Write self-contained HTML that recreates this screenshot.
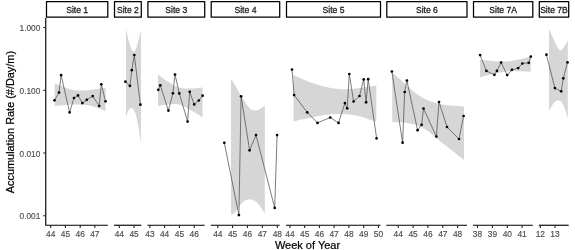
<!DOCTYPE html><html><head><meta charset="utf-8"><style>html,body{margin:0;padding:0;background:#fff;}svg{display:block;}text{font-family:"Liberation Sans",sans-serif;} .wrap{will-change:transform;}</style></head><body>
<div class="wrap">
<svg width="575" height="250" viewBox="0 0 575 250">
<rect x="0" y="0" width="575" height="250" fill="#fff"/>
<path d="M54.7,83.2 L60,85.5 L65,87.5 L70,89.2 L75,90.2 L80,90.6 L85,90.5 L90,90 L95,89.2 L100,88.4 L105.5,87.6 L105.5,111.3 L100,108.8 L95,107 L90,105.6 L85,104.8 L80,104.5 L75,104.4 L70,104.6 L65,105 L60,105.5 L54.7,106.1Z" fill="#d6d6d6"/>
<path d="M126,29 L128,38 L130,45.5 L132,50.5 L134,52 L136,49 L138,42 L139.5,36 L141,31 L141,143 L139.5,133 L137.5,122 L135.5,113.5 L133.5,109 L131,107.8 L129,109.5 L127.5,112.5 L126,117Z" fill="#d6d6d6"/>
<path d="M158,74.5 L162,77.5 L166,80.5 L170,83 L174,85.5 L178,87.3 L182,88.2 L186,88.5 L190,88.6 L194,88.4 L198,88 L202.5,87.6 L202.5,117.4 L198,114.5 L194,112 L190,109.7 L186,107.5 L182,105.5 L178,104.3 L174,104 L170,104.3 L166,104.8 L162,105.3 L158,105.7Z" fill="#d6d6d6"/>
<path d="M231,79 L233,82 L235.5,86 L238,90.5 L241,95.5 L244,100.5 L247,105.3 L250,108.8 L253,110.3 L256,110.6 L259,109.8 L262,107.9 L264.8,105 L264.8,213.87 L262.38,209.58 L259.97,206.03 L257.55,203.22 L255.14,201.15 L252.72,199.82 L250.31,199.23 L247.89,199.39 L245.48,200.28 L243.06,201.91 L240.65,204.29 L238.23,207.41 L235.82,211.27 L233.4,214.5 L231,214.3Z" fill="#d6d6d6"/>
<path d="M293.5,75.1 L300,78 L308,81.5 L316,84.3 L324,86.6 L332,88.2 L340,89.2 L348,89.3 L356,88.6 L364,87.5 L370,86.5 L376.3,85.4 L376.3,121.8 L370,119.8 L364,117.6 L356,115.5 L348,114.3 L340,114 L332,114.2 L324,115.2 L316,116.6 L308,118.2 L300,119.8 L293.5,121.4Z" fill="#d6d6d6"/>
<path d="M392.2,72.5 L398,77.5 L404,83 L410,88.5 L416,93.5 L422,97.5 L428,100.4 L434,102.5 L440,104 L446,105 L452,105.7 L458,106.1 L464,106.4 L464,160 L458,155.3 L452,150.5 L446,145.8 L440,141.2 L434,136 L428,131 L422,127.3 L416,125 L410,123.6 L404,122.6 L398,122.2 L392.2,122Z" fill="#d6d6d6"/>
<path d="M480,59.8 L485,60.3 L490,60.8 L495,61.3 L500,61.6 L505,61.6 L510,61.2 L515,60.3 L520,59.2 L525,58 L530.8,56.6 L530.8,71.8 L525,71.5 L520,71.3 L515,71.2 L510,71.3 L505,71.7 L500,72.4 L495,73.4 L490,74.6 L485,75.9 L480,77.4Z" fill="#d6d6d6"/>
<path d="M549,29 L551,33.5 L553,38 L555,42.5 L557,46.5 L559,49.5 L560.5,50.5 L562,49.8 L564,47 L566,43.5 L567.8,40.5 L567.8,118.8 L566,112.5 L564,106.5 L562,102.5 L560,100.6 L558,100.3 L556,101 L554,102.8 L552,105.5 L550.5,108.3 L549,111.1Z" fill="#d6d6d6"/>
<path d="M54.5,100.3 L59,92.6 L61.1,75.2 L69.6,112.4 L74,98 L78,95.4 L82.4,103.1 L86.8,99.8 L92.7,96.1 L99.2,106 L101.3,84.3 L105.5,101.3" fill="none" stroke="#505050" stroke-width="0.75" stroke-linejoin="round"/>
<path d="M125.4,81.7 L129.9,85.9 L131.8,70.2 L134.3,55 L140.4,104.7" fill="none" stroke="#505050" stroke-width="0.75" stroke-linejoin="round"/>
<path d="M158.3,89.8 L160.3,85.3 L168.4,110.6 L172.9,93.3 L175,74.5 L179.3,93.4 L187.6,121.6 L189.7,91.8 L194.2,104.4 L198.8,100.5 L202.6,95.7" fill="none" stroke="#505050" stroke-width="0.75" stroke-linejoin="round"/>
<path d="M224.3,142.8 L238.9,215.1 L241.1,96.3 L249.6,150.3 L256,135.1 L274.7,207.9 L277.1,135.1" fill="none" stroke="#505050" stroke-width="0.75" stroke-linejoin="round"/>
<path d="M292,69.5 L294.1,95.1 L307.2,112.3 L317.5,122.9 L330.2,117.5 L338.5,122.9 L344.9,103.1 L347.2,108.3 L349.3,74 L353.6,101.5 L359.5,96 L363.7,79.4 L366.1,102.3 L368.2,79.2 L376.6,138.3" fill="none" stroke="#505050" stroke-width="0.75" stroke-linejoin="round"/>
<path d="M391.9,71.5 L402.6,142.7 L404.7,92 L406.9,80.5 L417.6,130.2 L421.6,124.8 L423.5,108.5 L436.4,136.6 L439,102 L447,127 L459,139 L463.6,116" fill="none" stroke="#505050" stroke-width="0.75" stroke-linejoin="round"/>
<path d="M480.1,55.1 L486.4,70.9 L494.4,74.8 L496.9,70.9 L501.1,62.5 L507.2,75.1 L511.9,69.8 L518.2,68.1 L522.4,63.5 L528.7,62.8 L530.8,56.6" fill="none" stroke="#505050" stroke-width="0.75" stroke-linejoin="round"/>
<path d="M546.4,54.7 L554.9,88.1 L561.2,91.3 L563.3,78.3 L567.5,62.4" fill="none" stroke="#505050" stroke-width="0.75" stroke-linejoin="round"/>
<circle cx="54.5" cy="100.3" r="1.35" fill="#000"/>
<circle cx="59" cy="92.6" r="1.35" fill="#000"/>
<circle cx="61.1" cy="75.2" r="1.35" fill="#000"/>
<circle cx="69.6" cy="112.4" r="1.35" fill="#000"/>
<circle cx="74" cy="98" r="1.35" fill="#000"/>
<circle cx="78" cy="95.4" r="1.35" fill="#000"/>
<circle cx="82.4" cy="103.1" r="1.35" fill="#000"/>
<circle cx="86.8" cy="99.8" r="1.35" fill="#000"/>
<circle cx="92.7" cy="96.1" r="1.35" fill="#000"/>
<circle cx="99.2" cy="106" r="1.35" fill="#000"/>
<circle cx="101.3" cy="84.3" r="1.35" fill="#000"/>
<circle cx="105.5" cy="101.3" r="1.35" fill="#000"/>
<circle cx="125.4" cy="81.7" r="1.35" fill="#000"/>
<circle cx="129.9" cy="85.9" r="1.35" fill="#000"/>
<circle cx="131.8" cy="70.2" r="1.35" fill="#000"/>
<circle cx="134.3" cy="55" r="1.35" fill="#000"/>
<circle cx="140.4" cy="104.7" r="1.35" fill="#000"/>
<circle cx="158.3" cy="89.8" r="1.35" fill="#000"/>
<circle cx="160.3" cy="85.3" r="1.35" fill="#000"/>
<circle cx="168.4" cy="110.6" r="1.35" fill="#000"/>
<circle cx="172.9" cy="93.3" r="1.35" fill="#000"/>
<circle cx="175" cy="74.5" r="1.35" fill="#000"/>
<circle cx="179.3" cy="93.4" r="1.35" fill="#000"/>
<circle cx="187.6" cy="121.6" r="1.35" fill="#000"/>
<circle cx="189.7" cy="91.8" r="1.35" fill="#000"/>
<circle cx="194.2" cy="104.4" r="1.35" fill="#000"/>
<circle cx="198.8" cy="100.5" r="1.35" fill="#000"/>
<circle cx="202.6" cy="95.7" r="1.35" fill="#000"/>
<circle cx="224.3" cy="142.8" r="1.35" fill="#000"/>
<circle cx="238.9" cy="215.1" r="1.35" fill="#000"/>
<circle cx="241.1" cy="96.3" r="1.35" fill="#000"/>
<circle cx="249.6" cy="150.3" r="1.35" fill="#000"/>
<circle cx="256" cy="135.1" r="1.35" fill="#000"/>
<circle cx="274.7" cy="207.9" r="1.35" fill="#000"/>
<circle cx="277.1" cy="135.1" r="1.35" fill="#000"/>
<circle cx="292" cy="69.5" r="1.35" fill="#000"/>
<circle cx="294.1" cy="95.1" r="1.35" fill="#000"/>
<circle cx="307.2" cy="112.3" r="1.35" fill="#000"/>
<circle cx="317.5" cy="122.9" r="1.35" fill="#000"/>
<circle cx="330.2" cy="117.5" r="1.35" fill="#000"/>
<circle cx="338.5" cy="122.9" r="1.35" fill="#000"/>
<circle cx="344.9" cy="103.1" r="1.35" fill="#000"/>
<circle cx="347.2" cy="108.3" r="1.35" fill="#000"/>
<circle cx="349.3" cy="74" r="1.35" fill="#000"/>
<circle cx="353.6" cy="101.5" r="1.35" fill="#000"/>
<circle cx="359.5" cy="96" r="1.35" fill="#000"/>
<circle cx="363.7" cy="79.4" r="1.35" fill="#000"/>
<circle cx="366.1" cy="102.3" r="1.35" fill="#000"/>
<circle cx="368.2" cy="79.2" r="1.35" fill="#000"/>
<circle cx="376.6" cy="138.3" r="1.35" fill="#000"/>
<circle cx="391.9" cy="71.5" r="1.35" fill="#000"/>
<circle cx="402.6" cy="142.7" r="1.35" fill="#000"/>
<circle cx="404.7" cy="92" r="1.35" fill="#000"/>
<circle cx="406.9" cy="80.5" r="1.35" fill="#000"/>
<circle cx="417.6" cy="130.2" r="1.35" fill="#000"/>
<circle cx="421.6" cy="124.8" r="1.35" fill="#000"/>
<circle cx="423.5" cy="108.5" r="1.35" fill="#000"/>
<circle cx="436.4" cy="136.6" r="1.35" fill="#000"/>
<circle cx="439" cy="102" r="1.35" fill="#000"/>
<circle cx="447" cy="127" r="1.35" fill="#000"/>
<circle cx="459" cy="139" r="1.35" fill="#000"/>
<circle cx="463.6" cy="116" r="1.35" fill="#000"/>
<circle cx="480.1" cy="55.1" r="1.35" fill="#000"/>
<circle cx="486.4" cy="70.9" r="1.35" fill="#000"/>
<circle cx="494.4" cy="74.8" r="1.35" fill="#000"/>
<circle cx="496.9" cy="70.9" r="1.35" fill="#000"/>
<circle cx="501.1" cy="62.5" r="1.35" fill="#000"/>
<circle cx="507.2" cy="75.1" r="1.35" fill="#000"/>
<circle cx="511.9" cy="69.8" r="1.35" fill="#000"/>
<circle cx="518.2" cy="68.1" r="1.35" fill="#000"/>
<circle cx="522.4" cy="63.5" r="1.35" fill="#000"/>
<circle cx="528.7" cy="62.8" r="1.35" fill="#000"/>
<circle cx="530.8" cy="56.6" r="1.35" fill="#000"/>
<circle cx="546.4" cy="54.7" r="1.35" fill="#000"/>
<circle cx="554.9" cy="88.1" r="1.35" fill="#000"/>
<circle cx="561.2" cy="91.3" r="1.35" fill="#000"/>
<circle cx="563.3" cy="78.3" r="1.35" fill="#000"/>
<circle cx="567.5" cy="62.4" r="1.35" fill="#000"/>
<rect x="46.5" y="1.5" width="61.3" height="15.7" fill="#fff" stroke="#000" stroke-width="1.25" stroke-linejoin="round"/>
<text x="77.15" y="12.7" font-size="8.6" fill="#1a1a1a" stroke="#1a1a1a" stroke-width="0.28" text-anchor="middle">Site 1</text>
<rect x="114.5" y="1.5" width="26.8" height="15.7" fill="#fff" stroke="#000" stroke-width="1.25" stroke-linejoin="round"/>
<text x="127.9" y="12.7" font-size="8.6" fill="#1a1a1a" stroke="#1a1a1a" stroke-width="0.28" text-anchor="middle">Site 2</text>
<rect x="147.9" y="1.5" width="56.8" height="15.7" fill="#fff" stroke="#000" stroke-width="1.25" stroke-linejoin="round"/>
<text x="176.3" y="12.7" font-size="8.6" fill="#1a1a1a" stroke="#1a1a1a" stroke-width="0.28" text-anchor="middle">Site 3</text>
<rect x="211.2" y="1.5" width="68.5" height="15.7" fill="#fff" stroke="#000" stroke-width="1.25" stroke-linejoin="round"/>
<text x="245.45" y="12.7" font-size="8.6" fill="#1a1a1a" stroke="#1a1a1a" stroke-width="0.28" text-anchor="middle">Site 4</text>
<rect x="286.5" y="1.5" width="94" height="15.7" fill="#fff" stroke="#000" stroke-width="1.25" stroke-linejoin="round"/>
<text x="333.5" y="12.7" font-size="8.6" fill="#1a1a1a" stroke="#1a1a1a" stroke-width="0.28" text-anchor="middle">Site 5</text>
<rect x="386.8" y="1.5" width="80.2" height="15.7" fill="#fff" stroke="#000" stroke-width="1.25" stroke-linejoin="round"/>
<text x="426.9" y="12.7" font-size="8.6" fill="#1a1a1a" stroke="#1a1a1a" stroke-width="0.28" text-anchor="middle">Site 6</text>
<rect x="473.5" y="1.5" width="59.3" height="15.7" fill="#fff" stroke="#000" stroke-width="1.25" stroke-linejoin="round"/>
<text x="503.15" y="12.7" font-size="8.6" fill="#1a1a1a" stroke="#1a1a1a" stroke-width="0.28" text-anchor="middle">Site 7A</text>
<rect x="539.3" y="1.5" width="29.4" height="15.7" fill="#fff" stroke="#000" stroke-width="1.25" stroke-linejoin="round"/>
<text x="554" y="12.7" font-size="8.6" fill="#1a1a1a" stroke="#1a1a1a" stroke-width="0.28" text-anchor="middle">Site 7B</text>
<line x1="50.7" y1="225.25" x2="50.7" y2="227.95" stroke="#222" stroke-width="1.1"/>
<text transform="translate(50.7,236.7) scale(1,1.1)" font-size="8.4" fill="#4d4d4d" stroke="#4d4d4d" stroke-width="0.15" text-anchor="middle">44</text>
<line x1="65.4" y1="225.25" x2="65.4" y2="227.95" stroke="#222" stroke-width="1.1"/>
<text transform="translate(65.4,236.7) scale(1,1.1)" font-size="8.4" fill="#4d4d4d" stroke="#4d4d4d" stroke-width="0.15" text-anchor="middle">45</text>
<line x1="80.2" y1="225.25" x2="80.2" y2="227.95" stroke="#222" stroke-width="1.1"/>
<text transform="translate(80.2,236.7) scale(1,1.1)" font-size="8.4" fill="#4d4d4d" stroke="#4d4d4d" stroke-width="0.15" text-anchor="middle">46</text>
<line x1="94.8" y1="225.25" x2="94.8" y2="227.95" stroke="#222" stroke-width="1.1"/>
<text transform="translate(94.8,236.7) scale(1,1.1)" font-size="8.4" fill="#4d4d4d" stroke="#4d4d4d" stroke-width="0.15" text-anchor="middle">47</text>
<line x1="114" y1="225.25" x2="141.3" y2="225.25" stroke="#000" stroke-width="1.15"/>
<line x1="119.3" y1="225.25" x2="119.3" y2="227.95" stroke="#222" stroke-width="1.1"/>
<text transform="translate(119.3,236.7) scale(1,1.1)" font-size="8.4" fill="#4d4d4d" stroke="#4d4d4d" stroke-width="0.15" text-anchor="middle">44</text>
<line x1="134.1" y1="225.25" x2="134.1" y2="227.95" stroke="#222" stroke-width="1.1"/>
<text transform="translate(134.1,236.7) scale(1,1.1)" font-size="8.4" fill="#4d4d4d" stroke="#4d4d4d" stroke-width="0.15" text-anchor="middle">45</text>
<line x1="147.4" y1="225.25" x2="204.7" y2="225.25" stroke="#000" stroke-width="1.15"/>
<line x1="149.9" y1="225.25" x2="149.9" y2="227.95" stroke="#222" stroke-width="1.1"/>
<text transform="translate(149.9,236.7) scale(1,1.1)" font-size="8.4" fill="#4d4d4d" stroke="#4d4d4d" stroke-width="0.15" text-anchor="middle">43</text>
<line x1="164.6" y1="225.25" x2="164.6" y2="227.95" stroke="#222" stroke-width="1.1"/>
<text transform="translate(164.6,236.7) scale(1,1.1)" font-size="8.4" fill="#4d4d4d" stroke="#4d4d4d" stroke-width="0.15" text-anchor="middle">44</text>
<line x1="179.4" y1="225.25" x2="179.4" y2="227.95" stroke="#222" stroke-width="1.1"/>
<text transform="translate(179.4,236.7) scale(1,1.1)" font-size="8.4" fill="#4d4d4d" stroke="#4d4d4d" stroke-width="0.15" text-anchor="middle">45</text>
<line x1="194.2" y1="225.25" x2="194.2" y2="227.95" stroke="#222" stroke-width="1.1"/>
<text transform="translate(194.2,236.7) scale(1,1.1)" font-size="8.4" fill="#4d4d4d" stroke="#4d4d4d" stroke-width="0.15" text-anchor="middle">46</text>
<line x1="210.7" y1="225.25" x2="279.7" y2="225.25" stroke="#000" stroke-width="1.15"/>
<line x1="217.8" y1="225.25" x2="217.8" y2="227.95" stroke="#222" stroke-width="1.1"/>
<text transform="translate(217.8,236.7) scale(1,1.1)" font-size="8.4" fill="#4d4d4d" stroke="#4d4d4d" stroke-width="0.15" text-anchor="middle">44</text>
<line x1="232.6" y1="225.25" x2="232.6" y2="227.95" stroke="#222" stroke-width="1.1"/>
<text transform="translate(232.6,236.7) scale(1,1.1)" font-size="8.4" fill="#4d4d4d" stroke="#4d4d4d" stroke-width="0.15" text-anchor="middle">45</text>
<line x1="247.4" y1="225.25" x2="247.4" y2="227.95" stroke="#222" stroke-width="1.1"/>
<text transform="translate(247.4,236.7) scale(1,1.1)" font-size="8.4" fill="#4d4d4d" stroke="#4d4d4d" stroke-width="0.15" text-anchor="middle">46</text>
<line x1="262.3" y1="225.25" x2="262.3" y2="227.95" stroke="#222" stroke-width="1.1"/>
<text transform="translate(262.3,236.7) scale(1,1.1)" font-size="8.4" fill="#4d4d4d" stroke="#4d4d4d" stroke-width="0.15" text-anchor="middle">47</text>
<line x1="277.3" y1="225.25" x2="277.3" y2="227.95" stroke="#222" stroke-width="1.1"/>
<text transform="translate(277.3,236.7) scale(1,1.1)" font-size="8.4" fill="#4d4d4d" stroke="#4d4d4d" stroke-width="0.15" text-anchor="middle">48</text>
<line x1="286" y1="225.25" x2="380.5" y2="225.25" stroke="#000" stroke-width="1.15"/>
<line x1="290" y1="225.25" x2="290" y2="227.95" stroke="#222" stroke-width="1.1"/>
<text transform="translate(290,236.7) scale(1,1.1)" font-size="8.4" fill="#4d4d4d" stroke="#4d4d4d" stroke-width="0.15" text-anchor="middle">44</text>
<line x1="304.7" y1="225.25" x2="304.7" y2="227.95" stroke="#222" stroke-width="1.1"/>
<text transform="translate(304.7,236.7) scale(1,1.1)" font-size="8.4" fill="#4d4d4d" stroke="#4d4d4d" stroke-width="0.15" text-anchor="middle">45</text>
<line x1="319.4" y1="225.25" x2="319.4" y2="227.95" stroke="#222" stroke-width="1.1"/>
<text transform="translate(319.4,236.7) scale(1,1.1)" font-size="8.4" fill="#4d4d4d" stroke="#4d4d4d" stroke-width="0.15" text-anchor="middle">46</text>
<line x1="334.1" y1="225.25" x2="334.1" y2="227.95" stroke="#222" stroke-width="1.1"/>
<text transform="translate(334.1,236.7) scale(1,1.1)" font-size="8.4" fill="#4d4d4d" stroke="#4d4d4d" stroke-width="0.15" text-anchor="middle">47</text>
<line x1="348.9" y1="225.25" x2="348.9" y2="227.95" stroke="#222" stroke-width="1.1"/>
<text transform="translate(348.9,236.7) scale(1,1.1)" font-size="8.4" fill="#4d4d4d" stroke="#4d4d4d" stroke-width="0.15" text-anchor="middle">48</text>
<line x1="363.7" y1="225.25" x2="363.7" y2="227.95" stroke="#222" stroke-width="1.1"/>
<text transform="translate(363.7,236.7) scale(1,1.1)" font-size="8.4" fill="#4d4d4d" stroke="#4d4d4d" stroke-width="0.15" text-anchor="middle">49</text>
<line x1="378.4" y1="225.25" x2="378.4" y2="227.95" stroke="#222" stroke-width="1.1"/>
<text transform="translate(378.4,236.7) scale(1,1.1)" font-size="8.4" fill="#4d4d4d" stroke="#4d4d4d" stroke-width="0.15" text-anchor="middle">50</text>
<line x1="386.3" y1="225.25" x2="467" y2="225.25" stroke="#000" stroke-width="1.15"/>
<line x1="398.2" y1="225.25" x2="398.2" y2="227.95" stroke="#222" stroke-width="1.1"/>
<text transform="translate(398.2,236.7) scale(1,1.1)" font-size="8.4" fill="#4d4d4d" stroke="#4d4d4d" stroke-width="0.15" text-anchor="middle">44</text>
<line x1="413.1" y1="225.25" x2="413.1" y2="227.95" stroke="#222" stroke-width="1.1"/>
<text transform="translate(413.1,236.7) scale(1,1.1)" font-size="8.4" fill="#4d4d4d" stroke="#4d4d4d" stroke-width="0.15" text-anchor="middle">45</text>
<line x1="427.9" y1="225.25" x2="427.9" y2="227.95" stroke="#222" stroke-width="1.1"/>
<text transform="translate(427.9,236.7) scale(1,1.1)" font-size="8.4" fill="#4d4d4d" stroke="#4d4d4d" stroke-width="0.15" text-anchor="middle">46</text>
<line x1="442.8" y1="225.25" x2="442.8" y2="227.95" stroke="#222" stroke-width="1.1"/>
<text transform="translate(442.8,236.7) scale(1,1.1)" font-size="8.4" fill="#4d4d4d" stroke="#4d4d4d" stroke-width="0.15" text-anchor="middle">47</text>
<line x1="457.6" y1="225.25" x2="457.6" y2="227.95" stroke="#222" stroke-width="1.1"/>
<text transform="translate(457.6,236.7) scale(1,1.1)" font-size="8.4" fill="#4d4d4d" stroke="#4d4d4d" stroke-width="0.15" text-anchor="middle">48</text>
<line x1="473" y1="225.25" x2="532.8" y2="225.25" stroke="#000" stroke-width="1.15"/>
<line x1="477.5" y1="225.25" x2="477.5" y2="227.95" stroke="#222" stroke-width="1.1"/>
<text transform="translate(477.5,236.7) scale(1,1.1)" font-size="8.4" fill="#4d4d4d" stroke="#4d4d4d" stroke-width="0.15" text-anchor="middle">38</text>
<line x1="492.4" y1="225.25" x2="492.4" y2="227.95" stroke="#222" stroke-width="1.1"/>
<text transform="translate(492.4,236.7) scale(1,1.1)" font-size="8.4" fill="#4d4d4d" stroke="#4d4d4d" stroke-width="0.15" text-anchor="middle">39</text>
<line x1="507.3" y1="225.25" x2="507.3" y2="227.95" stroke="#222" stroke-width="1.1"/>
<text transform="translate(507.3,236.7) scale(1,1.1)" font-size="8.4" fill="#4d4d4d" stroke="#4d4d4d" stroke-width="0.15" text-anchor="middle">40</text>
<line x1="522.1" y1="225.25" x2="522.1" y2="227.95" stroke="#222" stroke-width="1.1"/>
<text transform="translate(522.1,236.7) scale(1,1.1)" font-size="8.4" fill="#4d4d4d" stroke="#4d4d4d" stroke-width="0.15" text-anchor="middle">41</text>
<line x1="538.8" y1="225.25" x2="568.7" y2="225.25" stroke="#000" stroke-width="1.15"/>
<line x1="540.3" y1="225.25" x2="540.3" y2="227.95" stroke="#222" stroke-width="1.1"/>
<text transform="translate(540.3,236.7) scale(1,1.1)" font-size="8.4" fill="#4d4d4d" stroke="#4d4d4d" stroke-width="0.15" text-anchor="middle">12</text>
<line x1="555" y1="225.25" x2="555" y2="227.95" stroke="#222" stroke-width="1.1"/>
<text transform="translate(555,236.7) scale(1,1.1)" font-size="8.4" fill="#4d4d4d" stroke="#4d4d4d" stroke-width="0.15" text-anchor="middle">13</text>
<path d="M45.75,18 L45.75,225.25 L107.8,225.25" fill="none" stroke="#000" stroke-width="1.15" stroke-linejoin="round"/>
<line x1="43.3" y1="27.5" x2="45.5" y2="27.5" stroke="#222" stroke-width="1.1"/>
<text transform="translate(40.3,31) scale(1,1.08)" font-size="8.3" fill="#4d4d4d" stroke="#4d4d4d" stroke-width="0.15" text-anchor="end">1.000</text>
<line x1="43.3" y1="90.25" x2="45.5" y2="90.25" stroke="#222" stroke-width="1.1"/>
<text transform="translate(40.3,93.75) scale(1,1.08)" font-size="8.3" fill="#4d4d4d" stroke="#4d4d4d" stroke-width="0.15" text-anchor="end">0.100</text>
<line x1="43.3" y1="153" x2="45.5" y2="153" stroke="#222" stroke-width="1.1"/>
<text transform="translate(40.3,156.5) scale(1,1.08)" font-size="8.3" fill="#4d4d4d" stroke="#4d4d4d" stroke-width="0.15" text-anchor="end">0.010</text>
<line x1="43.3" y1="215.75" x2="45.5" y2="215.75" stroke="#222" stroke-width="1.1"/>
<text transform="translate(40.3,219.25) scale(1,1.08)" font-size="8.3" fill="#4d4d4d" stroke="#4d4d4d" stroke-width="0.15" text-anchor="end">0.001</text>
<text x="307.5" y="248.6" font-size="11" fill="#000" stroke="#000" stroke-width="0.22" text-anchor="middle">Week of Year</text>
<text transform="translate(13.6,122.1) rotate(-90)" x="0" y="0" font-size="10.9" fill="#000" stroke="#000" stroke-width="0.22" text-anchor="middle">Accumulation Rate (#/Day/m)</text>
</svg></div></body></html>
